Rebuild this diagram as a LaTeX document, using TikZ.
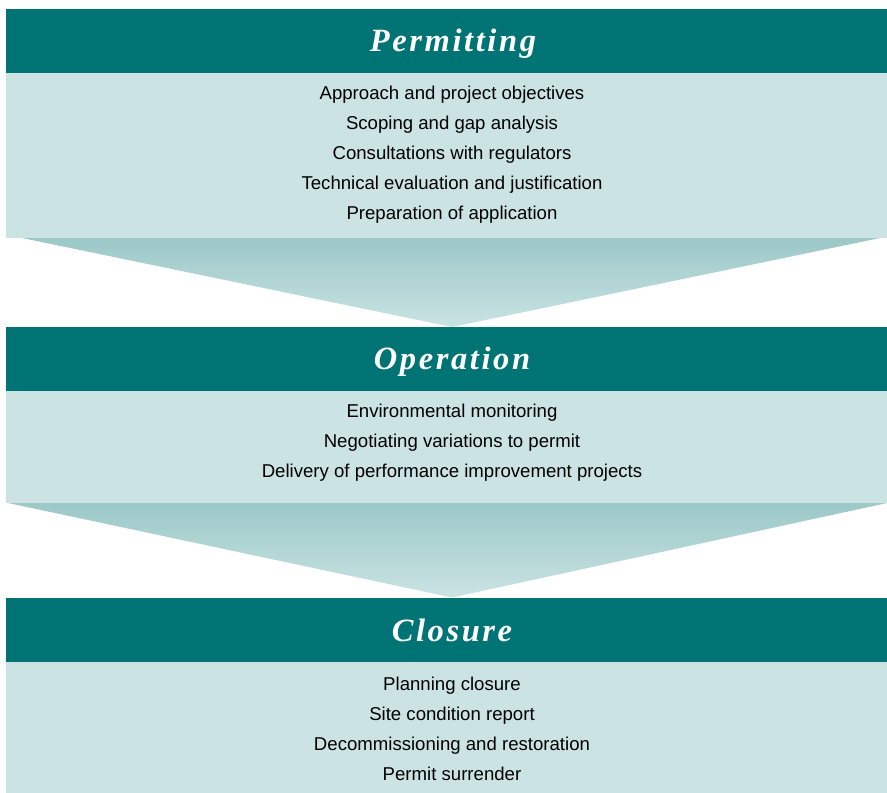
\documentclass[tikz,border=0pt]{standalone}
\usepackage{fontspec}
\setmainfont{Liberation Sans}
\newfontfamily\headfont[LetterSpace=8]{Liberation Serif}
\definecolor{bandteal}{HTML}{007474}
\definecolor{bodymint}{HTML}{CBE3E3}
\definecolor{funneltop}{HTML}{9CC8C8}
\definecolor{funnelbot}{HTML}{CAE3E3}
\begin{document}
\begin{tikzpicture}[x=1pt,y=-1pt,
  band/.style={fill=bandteal, draw=none, inner sep=0pt, outer sep=0pt,
    minimum width=881pt, anchor=north west},
  panel/.style={fill=bodymint, draw=none, inner sep=0pt, outer sep=0pt,
    minimum width=881pt, anchor=north west},
  title/.style={anchor=base, inner sep=0pt, text=white,
    font=\headfont\bfseries\itshape\fontsize{32.5}{36}\selectfont},
  item/.style={anchor=base, inner sep=0pt, text=black,
    font=\fontsize{18.6}{22}\selectfont},
  funnel/.style={top color=funneltop, bottom color=funnelbot, draw=none}]
\useasboundingbox (0,0) rectangle (887,793);

% stage 1: permitting
\node[band,  minimum height=63.5pt]  (h1) at (6,9) {};
\node[panel, minimum height=165.5pt] (b1) at (6,72.5) {};
\node[title] (t1) at (453,51) {Permitting};
\node[item] (p1) at (452,99.5)  {Approach and project objectives};
\node[item] (p2) at (452,129.5) {Scoping and gap analysis};
\node[item] (p3) at (452,159.5) {Consultations with regulators};
\node[item] (p4) at (452,189.5) {Technical evaluation and justification};
\node[item] (p5) at (452,219.5) {Preparation of application};

% funnel 1 -> 2
\coordinate (f1l) at (22,238);
\coordinate (f1r) at (880,238);
\coordinate (f1a) at (452,327);
\shade[funnel] (f1l) -- (f1r) -- (f1a) -- cycle;

% stage 2: operation
\node[band,  minimum height=63.5pt]  (h2) at (6,327) {};
\node[panel, minimum height=112.5pt] (b2) at (6,390.5) {};
\node[title] (t2) at (452,369) {Operation};
\node[item] (o1) at (452,417.5) {Environmental monitoring};
\node[item] (o2) at (452,447.5) {Negotiating variations to permit};
\node[item] (o3) at (452,477.5) {Delivery of performance improvement projects};

% funnel 2 -> 3
\coordinate (f2l) at (8,503);
\coordinate (f2r) at (887,503);
\coordinate (f2a) at (452,597.5);
\shade[funnel] (f2l) -- (f2r) -- (f2a) -- cycle;

% stage 3: closure
\node[band,  minimum height=64.5pt]  (h3) at (6,597.5) {};
\node[panel, minimum height=131pt]   (b3) at (6,662) {};
\node[title] (t3) at (452,641) {Closure};
\node[item] (c1) at (452,690) {Planning closure};
\node[item] (c2) at (452,720) {Site condition report};
\node[item] (c3) at (452,750) {Decommissioning and restoration};
\node[item] (c4) at (452,780) {Permit surrender};
\end{tikzpicture}
\end{document}
